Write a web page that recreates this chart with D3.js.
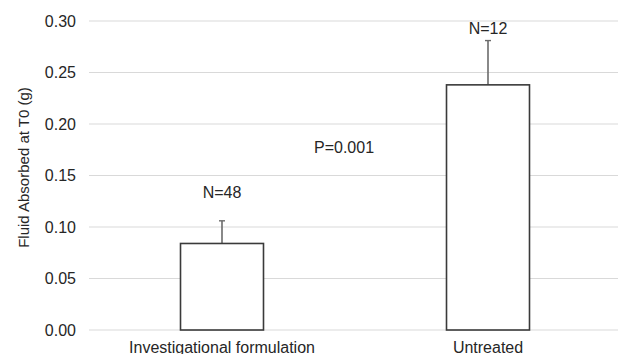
<!DOCTYPE html>
<html><head><meta charset="utf-8">
<script src="https://cdn.jsdelivr.net/npm/d3@7"></script>
<style>body{margin:0;background:#fff}svg{display:block}text{font-family:"Liberation Sans",Arial,sans-serif;fill:#262626}</style>
</head><body><svg id="c" width="621" height="354"></svg>
<script>
const categories = ["Investigational formulation", "Untreated"];
const means = [0.084, 0.238];
const errTop = [0.106, 0.281];
const nLabels = ["N=48", "N=12"];
const yTicks = [0.00, 0.05, 0.10, 0.15, 0.20, 0.25, 0.30];
const pLabel = "P=0.001";
const yTitle = "Fluid Absorbed at T0 (g)";

const svg = d3.select("#c");
const m = {l: 89, r: 0, t: 21, b: 24};
const W = 621, H = 354;
const FS = 16;
const x = d3.scaleBand().domain(categories).range([m.l, W - m.r]).paddingInner(0.688).paddingOuter(0.344);
const y = d3.scaleLinear().domain([0, 0.30]).range([H - m.b, m.t]);

// grid
svg.append("g").selectAll("line").data(yTicks).join("line")
  .attr("x1", m.l).attr("x2", W - 3).attr("y1", d => y(d)).attr("y2", d => y(d))
  .attr("stroke", "#d9d9d9").attr("stroke-width", 1.2);

// y axis labels
const ya = svg.append("g").attr("transform", `translate(${m.l - 13},0)`)
  .call(d3.axisLeft(y).tickValues(yTicks).tickFormat(d3.format(".2f")).tickSize(0));
ya.select(".domain").remove();
ya.selectAll("text").attr("font-size", FS).attr("fill", "#262626").attr("font-family", "Liberation Sans, Arial, sans-serif").attr("x", 0);

// x axis labels
const xa = svg.append("g").attr("transform", `translate(0,${y(0)})`)
  .call(d3.axisBottom(x).tickSize(0));
xa.select(".domain").remove();
xa.selectAll("text").attr("font-size", FS).attr("fill", "#262626").attr("y", 22.5).attr("dy", 0).attr("font-family", "Liberation Sans, Arial, sans-serif");

// error bars
const cx = d => x(d) + x.bandwidth() / 2;
const eg = svg.append("g");
categories.forEach((c, i) => {
  eg.append("line").attr("x1", cx(c)).attr("x2", cx(c)).attr("y1", y(means[i])).attr("y2", y(errTop[i]))
    .attr("stroke", "#6b6b6b").attr("stroke-width", 1.6);
  eg.append("line").attr("x1", cx(c) - 3).attr("x2", cx(c) + 3).attr("y1", y(errTop[i])).attr("y2", y(errTop[i]))
    .attr("stroke", "#6b6b6b").attr("stroke-width", 1.4);
});

// bars
svg.append("g").selectAll("rect").data(categories).join("rect")
  .attr("x", d => x(d)).attr("width", x.bandwidth())
  .attr("y", (d, i) => y(means[i])).attr("height", (d, i) => y(0) - y(means[i]))
  .attr("fill", "#fff").attr("stroke", "#3a3a3a").attr("stroke-width", 1.6);

// N labels
svg.append("g").selectAll("text").data(categories).join("text")
  .attr("x", d => cx(d)).attr("y", (d, i) => y(errTop[i]) - (i === 0 ? 23 : 6.5))
  .attr("text-anchor", "middle").attr("font-size", FS).text((d, i) => nLabels[i]);

// P label
svg.append("text").attr("x", 344).attr("y", y(0.175) + 3)
  .attr("text-anchor", "middle").attr("font-size", FS).text(pLabel);

// y title
svg.append("text").attr("transform", `translate(29,${(y(0)+y(0.30))/2 - 8}) rotate(-90)`)
  .attr("text-anchor", "middle").attr("font-size", 15).text(yTitle);
</script></body></html>
